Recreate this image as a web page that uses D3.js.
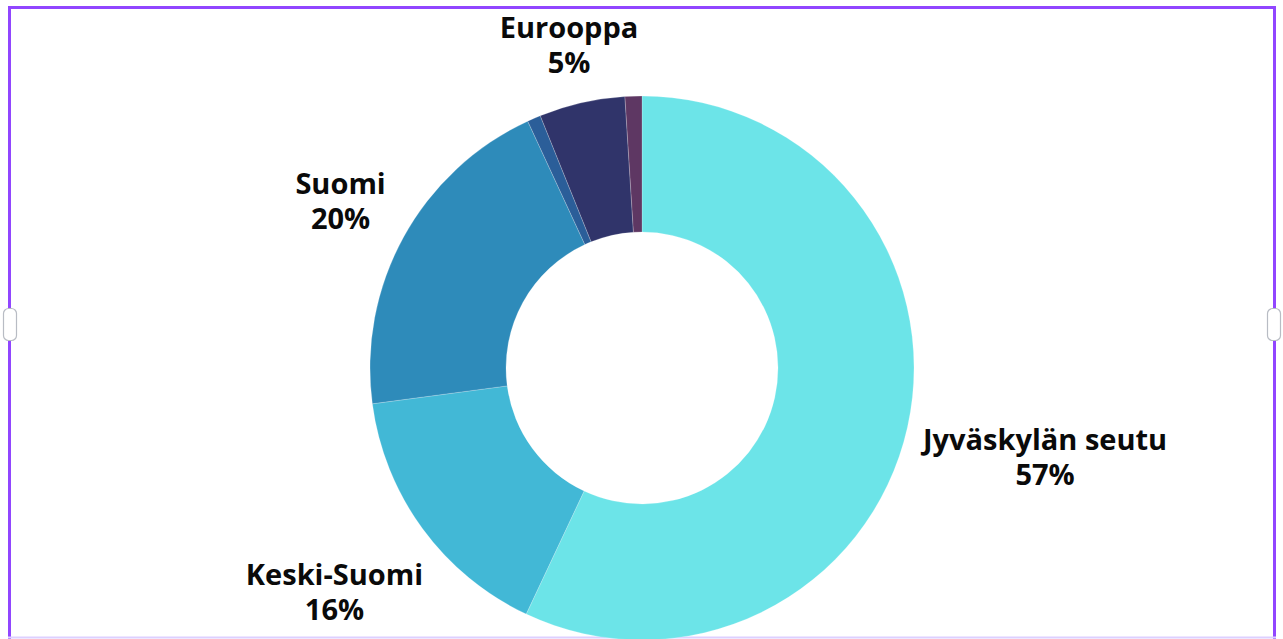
<!DOCTYPE html>
<html><head><meta charset="utf-8">
<script src="https://cdn.jsdelivr.net/npm/d3@7"></script>
<style>
html,body{margin:0;padding:0;background:#fff;overflow:hidden;}
svg{display:block;}
</style></head>
<body>
<svg id="chart" width="1283" height="639"></svg>
<script>
// Data
const categories = ["Jyväskylän seutu", "Keski-Suomi", "Suomi", "Muu Pohjola", "Eurooppa", "Muu maailma"];
const values = [57.0, 15.9, 20.2, 0.8, 5.1, 1.0];
const showLabel = [true, true, true, false, true, false];
const colors = ["#6ce4e8", "#42b8d6", "#2e8bba", "#2b5e99", "#30346a", "#5e3763"];

// Layout
const W = 1283, H = 639;
const cx = 642, cy = 368, outerR = 272, innerR = 136;
const labelDist = [413, 381, 344, 0, 330, 0];
const lineGap = 35, fontSize = 29;

const svg = d3.select("#chart");

// Frame
svg.append("rect").attr("x", 9.5).attr("y", 7.5).attr("width", 1265).attr("height", 660)
  .attr("fill", "none").attr("stroke", "#9146ff").attr("stroke-width", 3);
svg.append("line").attr("x1", 8).attr("x2", 1276).attr("y1", 637.5).attr("y2", 637.5)
  .attr("stroke", "#ddd0ff").attr("stroke-width", 2);
[[3, 308], [1267, 308]].forEach(([x, y]) => {
  svg.append("rect").attr("x", x + 0.5).attr("y", y + 0.5).attr("width", 13).attr("height", 32)
    .attr("rx", 5).attr("fill", "#fff").attr("stroke", "#b8bcc4").attr("stroke-width", 1.2);
});

const data = categories.map((c, i) => ({name: c, value: values[i], color: colors[i], show: showLabel[i], dist: labelDist[i]}));
const pie = d3.pie().value(d => d.value).sort(null);
const arc = d3.arc().innerRadius(innerR).outerRadius(outerR);
const arcs = pie(data);

const g = svg.append("g").attr("transform", `translate(${cx},${cy})`);
g.selectAll("path").data(arcs).join("path")
  .attr("d", arc)
  .attr("fill", d => d.data.color)
  .attr("stroke", "#ffffff").attr("stroke-opacity", 0.35).attr("stroke-width", 0.6);

const total = d3.sum(values);
const lbl = g.selectAll("text").data(arcs.filter(d => d.data.show)).join("text")
  .attr("text-anchor", "middle")
  .attr("font-family", "'Open Sans', 'Noto Sans', sans-serif")
  .attr("font-weight", 700)
  .attr("font-size", fontSize)
  .attr("fill", "#0a0a0a")
  .attr("transform", d => {
    const a = (d.startAngle + d.endAngle) / 2;
    const x = Math.sin(a) * d.data.dist;
    const y = -Math.cos(a) * d.data.dist;
    return `translate(${x},${y - 8})`;
  });
lbl.append("tspan").attr("x", 0).attr("dy", 0).text(d => d.data.name);
lbl.append("tspan").attr("x", 0).attr("dy", lineGap).text(d => Math.round(d.data.value / total * 100) + "%");
</script>
</body></html>
